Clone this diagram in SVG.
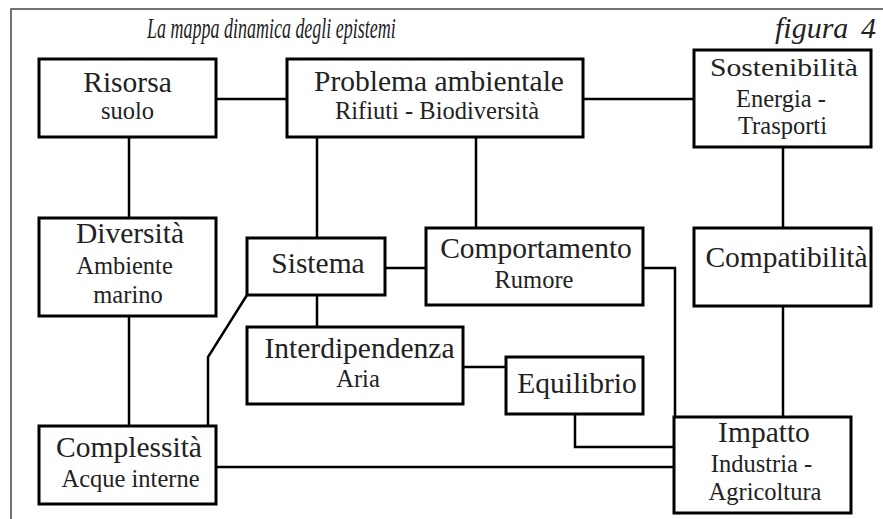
<svg xmlns="http://www.w3.org/2000/svg" width="883" height="519" viewBox="0 0 883 519">
<style>
.box{fill:#fff;stroke:#000;stroke-width:3}
.ln{fill:none;stroke:#000;stroke-width:2.5}
text{font-family:"Liberation Serif","Times New Roman",serif;fill:#222;text-anchor:middle}
.m{font-size:29.5px}
.s{font-size:24.5px}
.t{font-size:30px;font-style:italic;text-anchor:start}
</style>
<rect width="883" height="519" fill="#fff"/>
<path d="M11,519 V9 H883" fill="none" stroke="#444" stroke-width="1.5"/>
<text class="t" transform="translate(147,38) scale(0.6,1)">La mappa dinamica degli epistemi</text>
<text class="t" x="775" y="38">figura</text>
<text class="t" x="861" y="38">4</text>
<g id="connectors">
<path class="ln" d="M216,99 H287"/>
<path class="ln" d="M583,99 H694"/>
<path class="ln" d="M129,137 V218"/>
<path class="ln" d="M129,316 V426"/>
<path class="ln" d="M317,137 V238"/>
<path class="ln" d="M476,137 V228"/>
<path class="ln" d="M783,147 V228"/>
<path class="ln" d="M385,268 H426"/>
<path class="ln" d="M317,295 V327"/>
<path class="ln" d="M247,295 L208,357 V426"/>
<path class="ln" d="M643,268 H675 V417"/>
<path class="ln" d="M463,367 H506"/>
<path class="ln" d="M575,414 V447 H674"/>
<path class="ln" d="M216,467 H674"/>
<path class="ln" d="M783,306 V417"/>
</g>
<g id="risorsa"><rect class="box" x="39" y="59" width="177" height="78"/><text class="m" x="127.5" y="92">Risorsa</text><text class="s" x="127.5" y="119">suolo</text></g>
<g id="problema"><rect class="box" x="287" y="59" width="296" height="78"/><text class="m" x="439" y="91">Problema ambientale</text><text class="s" x="437" y="119">Rifiuti - Biodiversità</text></g>
<g id="sostenibilita"><rect class="box" x="694" y="50" width="177" height="97"/><text class="m" x="784" y="76" textLength="148" lengthAdjust="spacingAndGlyphs" style="font-size:25px">Sostenibilità</text><text class="s" x="781" y="106.5">Energia -</text><text class="s" x="782.5" y="133.5">Trasporti</text></g>
<g id="diversita"><rect class="box" x="39" y="218" width="177" height="98"/><text class="m" x="130" y="243">Diversità</text><text class="s" x="124.5" y="274">Ambiente</text><text class="s" x="128" y="302.5">marino</text></g>
<g id="sistema"><rect class="box" x="247" y="238" width="138" height="57"/><text class="m" x="318" y="273">Sistema</text></g>
<g id="comportamento"><rect class="box" x="426" y="228" width="217" height="77"/><text class="m" x="536" y="258">Comportamento</text><text class="s" x="534" y="288">Rumore</text></g>
<g id="compatibilita"><rect class="box" x="694" y="228" width="177" height="78"/><text class="m" x="786.5" y="266.5">Compatibilità</text></g>
<g id="interdipendenza"><rect class="box" x="247" y="327" width="216" height="77"/><text class="m" x="359.5" y="358">Interdipendenza</text><text class="s" x="358" y="386.5">Aria</text></g>
<g id="equilibrio"><rect class="box" x="506" y="357" width="137" height="57"/><text class="m" x="577" y="392.5">Equilibrio</text></g>
<g id="complessita"><rect class="box" x="39" y="426" width="177" height="78"/><text class="m" x="129" y="457">Complessità</text><text class="s" x="130.5" y="486.5">Acque interne</text></g>
<g id="impatto"><rect class="box" x="674" y="417" width="177" height="96"/><text class="m" x="764" y="441.5">Impatto</text><text class="s" x="761.5" y="471.5">Industria -</text><text class="s" x="765" y="500">Agricoltura</text></g>
</svg>
